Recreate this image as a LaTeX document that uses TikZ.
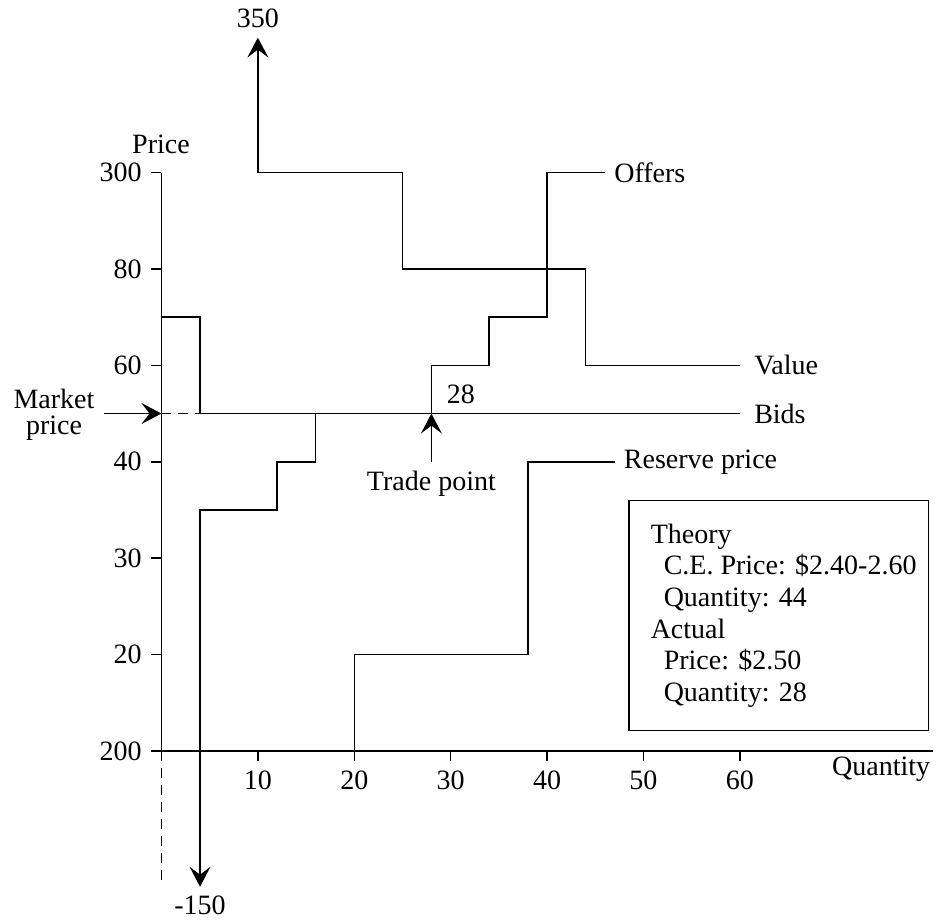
\documentclass[tikz,border=0pt]{standalone}
\usepackage{fontspec}
\setmainfont{Liberation Serif}
\usetikzlibrary{arrows.meta}

\begin{document}
\begin{tikzpicture}[
    x=4.82pt, y=48.2pt,
    every node/.style={font=\fontsize{14}{16}\selectfont, inner sep=4.5pt},
    line/.style={line width=0.75pt},
    gap/.style={line width=0.75pt, dash pattern=on 5pt off 3.5pt},
    pointer/.style={line width=0.75pt,
        -{Stealth[length=10pt, width=10.5pt, inset=4pt]}},
    note/.style={draw, line width=0.75pt, align=left,
        minimum width=149.65pt, minimum height=115pt,
        font=\fontsize{14}{15.85}\selectfont}
]
    \useasboundingbox (-16.75,-1.784) rectangle (80.76,7.790);
    % axes
    \draw[line] ([xshift=-5pt]0,0) -- (80,0);
    \draw[line] (0,0) -- (0,6);
    \draw[gap] (0,0) -- (0,-1.408);
    \foreach \lev/\txt in {0/200, 1/20, 2/30, 3/40, 4/60, 5/80, 6/300}
        \draw[line] (0,\lev) -- ++(-5pt,0) node[anchor=east] (ylab\lev) {\txt};
    \foreach \q in {10,20,...,60}
        \draw[line] (\q,0) -- ++(0,-5pt) node[anchor=north] (xlab\q) {\q};
    \node[anchor=base] (price) at (-0.05,6.193) {Price};
    \node[anchor=base west] (quantity) at (68.6,-0.259) {Quantity};
    % value
    \draw[pointer] (60,4) -- (44,4) -- (44,5) -- (25,5) -- (25,6)
        -- (10,6) -- (10,7.4) coordinate (vtop);
    \node[anchor=south] (vmax) at (vtop) {350};
    \node[anchor=west, xshift=2.5pt] (value) at (60,4) {Value};
    % offers
    \draw[pointer] (46,6) -- (40,6) -- (40,4.5) -- (34,4.5) -- (34,4)
        -- (28,4) -- (28,3.5) -- (16,3.5) -- (16,3) -- (12,3) -- (12,2.5)
        -- (4,2.5) -- (4,-1.408) coordinate (obot);
    \node[anchor=north] (omin) at (obot) {-150};
    \node[anchor=west] (offers) at (46,6) {Offers};
    % bids
    \draw[line] (0,4.5) -- (4,4.5) -- (4,3.5) -- (60,3.5);
    \draw[gap] (0,3.5) -- (4,3.5);
    \node[anchor=west, xshift=2.5pt] (bids) at (60,3.5) {Bids};
    % market price
    \coordinate (mtip) at (0,3.5);
    \coordinate (mtail) at (-5.96,3.5);
    \draw[pointer] (mtail) -- (mtip);
    \node[align=center, font=\fontsize{14}{13}\selectfont] (market)
        at (-11.15,3.49) {Market\\price};
    % reserve price
    \draw[line] (20,0) -- (20,1) -- (38,1) -- (38,3) -- (47,3);
    \node[anchor=west] (reserve) at (47,3) {Reserve price};
    % trade point
    \coordinate (tbase) at (28,3);
    \coordinate (ttip) at (28,3.5);
    \draw[pointer] (tbase) -- (ttip);
    \node[anchor=north] (trade) at (tbase) {Trade point};
    \node[anchor=south west, xshift=3pt] (qty) at (ttip) {28};
    % summary
    \node[note] (summary) at (64.02,1.4035) {\hspace*{5pt}Theory\\
        \hspace*{11.5pt}C.E. Price: \$2.40-2.60\\
        \hspace*{11.5pt}Quantity: 44\\
        \hspace*{5pt}Actual\\
        \hspace*{11.5pt}Price: \$2.50\\
        \hspace*{11.5pt}Quantity: 28};
\end{tikzpicture}
\end{document}
